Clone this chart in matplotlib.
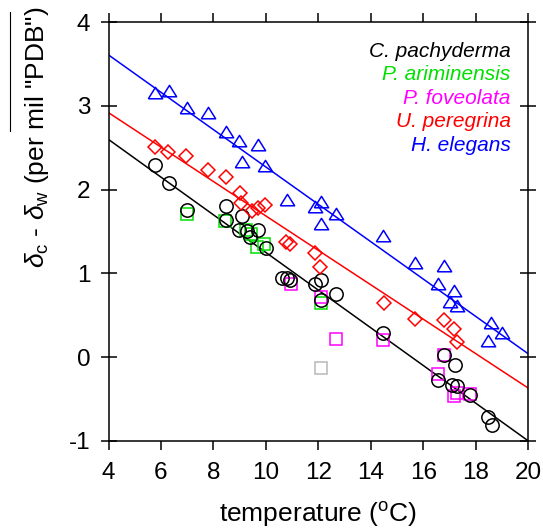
import matplotlib
matplotlib.use("Agg")
import matplotlib.pyplot as plt
from matplotlib.lines import Line2D
import numpy as np

plt.rcParams['font.family'] = ['Liberation Sans', 'DejaVu Sans']
plt.rcParams['mathtext.fontset'] = 'custom'
plt.rcParams['mathtext.rm'] = 'Liberation Sans'
plt.rcParams['mathtext.it'] = 'Liberation Sans:italic'

# ---------------- data ----------------
species = ["C. pachyderma", "P. ariminensis", "P. foveolata", "U. peregrina", "H. elegans"]
colors = ["#000000", "#00e000", "#ff00ff", "#ff0000", "#0000ff"]

c_pach_x = [5.79, 6.29, 6.98, 8.48, 8.50, 9.08, 8.98, 9.30, 9.40, 9.70, 9.99, 10.61, 10.80, 10.92,
            11.88, 12.09, 12.09, 12.68, 14.48, 16.78, 17.20, 16.58, 17.09, 17.28, 17.78, 18.49, 18.61]
c_pach_y = [2.29, 2.08, 1.76, 1.80, 1.64, 1.68, 1.52, 1.50, 1.43, 1.52, 1.30, 0.94, 0.95, 0.92,
            0.87, 0.92, 0.68, 0.75, 0.29, 0.02, -0.10, -0.28, -0.33, -0.35, -0.45, -0.72, -0.81]

p_arim_x = [6.98, 8.46, 9.24, 9.43, 9.66, 9.93, 12.09]
p_arim_y = [1.71, 1.62, 1.52, 1.47, 1.31, 1.35, 0.64]

p_fove_x = [10.95, 12.09, 12.68, 14.48, 16.79, 16.58, 17.16, 17.30, 17.79]
p_fove_y = [0.87, 0.72, 0.22, 0.20, 0.03, -0.20, -0.47, -0.43, -0.44]

u_pere_x = [5.77, 6.28, 6.97, 7.79, 8.48, 9.02, 9.05, 9.46, 9.71, 9.98, 10.77, 10.92,
            11.88, 12.07, 14.51, 15.69, 16.78, 17.18, 17.31]
u_pere_y = [2.51, 2.45, 2.40, 2.24, 2.15, 1.96, 1.84, 1.74, 1.78, 1.82, 1.37, 1.35,
            1.24, 1.08, 0.65, 0.46, 0.44, 0.33, 0.18]

h_eleg_x = [5.77, 6.32, 6.98, 7.81, 8.48, 8.99, 9.69, 9.10, 9.97, 10.80, 12.09, 11.88, 12.09,
            12.68, 14.48, 15.69, 16.80, 16.58, 17.19, 17.02, 17.30, 18.59, 19.00, 18.49]
h_eleg_y = [3.14, 3.17, 2.96, 2.90, 2.68, 2.57, 2.52, 2.32, 2.27, 1.86, 1.84, 1.78, 1.58,
            1.70, 1.43, 1.11, 1.07, 0.86, 0.78, 0.64, 0.60, 0.39, 0.28, 0.18]

other_x = [12.09]
other_y = [-0.13]

# linear fits (intercept at T=0, slope) for C. pachyderma, U. peregrina, H. elegans
fit_names = ["C. pachyderma", "U. peregrina", "H. elegans"]
fit_intercept = [3.50, 3.7425, 4.5025]
fit_slope = [-0.225, -0.2056, -0.2231]

xticks = [4, 6, 8, 10, 12, 14, 16, 18, 20]
yticks = [-1, 0, 1, 2, 3, 4]

# ---------------- figure ----------------
W, H = 543, 530
fig = plt.figure(figsize=(W / 100, H / 100), dpi=100)
x0, x1, ytop, ybot = 108.5, 528.0, 22.3, 440.7
ax = fig.add_axes([x0 / W, 1 - ybot / H, (x1 - x0) / W, (ybot - ytop) / H])
ax.set_xlim(4, 20)
ax.set_ylim(-1, 4)

cmap = dict(zip(species, colors))
tx = np.array([4.0, 20.0])
for name, b, m in zip(fit_names, fit_intercept, fit_slope):
    ax.plot(tx, b + m * tx, color=cmap[name], lw=1.1, zorder=2)

tri = [(-1, -0.6), (1, -0.6), (0, 1.0), (-1, -0.6)]
mk = dict(linestyle='none', markerfacecolor='none', markeredgewidth=1.1, zorder=3)
ax.plot(other_x, other_y, marker='s', ms=9.3, markeredgecolor='#b8b8b8', **mk)
ax.plot(p_arim_x, p_arim_y, marker='s', ms=9.3, markeredgecolor=cmap["P. ariminensis"], **mk)
ax.plot(p_fove_x, p_fove_y, marker='s', ms=9.3, markeredgecolor=cmap["P. foveolata"], **mk)
ax.plot(c_pach_x, c_pach_y, marker='o', ms=9.6, markeredgecolor=cmap["C. pachyderma"], **mk)
ax.plot(u_pere_x, u_pere_y, marker='D', ms=7.6, markeredgecolor=cmap["U. peregrina"], **mk)
ax.plot(h_eleg_x, h_eleg_y, marker=tri, ms=10.3, markeredgecolor=cmap["H. elegans"], **mk)

ax.set_xticks(xticks)
ax.set_yticks(yticks)
ax.set_xticklabels([str(v) for v in xticks])
ax.set_yticklabels([str(v) for v in yticks])
for s in ax.spines.values():
    s.set_linewidth(1.1)
ax.tick_params(axis='x', which='both', direction='out', length=6.5, width=1.1,
               top=True, bottom=True, labelsize=17.5, pad=9)
ax.tick_params(axis='y', which='both', direction='inout', length=12, width=1.1,
               left=True, right=True, labelsize=17.5, pad=7)

# legend text
bx = (510.7 - x0) / (x1 - x0)
for i, (name, col) in enumerate(zip(species, colors)):
    by = (ybot - (56.7 + 23.5 * i)) / (ybot - ytop)
    ax.text(bx, by, name, transform=ax.transAxes, ha='right', va='baseline',
            color=col, fontsize=15, style='italic')

ax.set_xlabel(r'temperature ($^\mathrm{o}$C)', fontsize=19)
ax.xaxis.set_label_coords(0.5, (ybot - 522) / (ybot - ytop))
ax.xaxis.label.set_va('baseline')

ax.set_ylabel(r'$\delta_\mathrm{c}$ - $\delta_\mathrm{w}$ (per mil "PDB")', fontsize=19)
ax.yaxis.set_label_coords((44 - x0) / (x1 - x0), (ybot - 137) / (ybot - ytop))
ax.yaxis.label.set_va('baseline')

# overline next to the axis title
fig.add_artist(Line2D([10 / W, 10 / W], [1 - 12 / H, 1 - 131 / H],
                      transform=fig.transFigure, color='black', lw=0.8))

fig.savefig("out.png", dpi=100)
